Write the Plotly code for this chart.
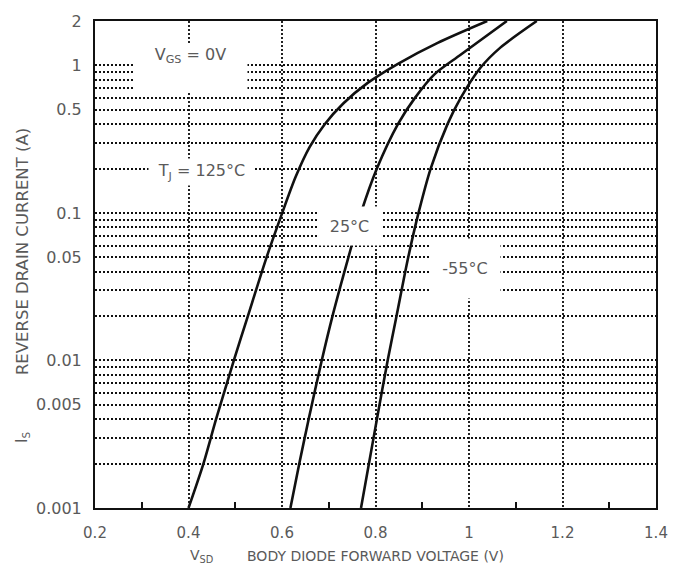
import math
import plotly.graph_objects as go

# ---------------- data ----------------
v_125 = [0.400, 0.432, 0.459, 0.497, 0.527, 0.567, 0.599, 0.629, 0.659, 0.691, 0.731, 0.784, 0.848, 0.933, 1.039]
i_125 = [0.001, 0.002, 0.004, 0.01, 0.02, 0.05, 0.097, 0.175, 0.279, 0.398, 0.552, 0.764, 1.026, 1.422, 2.0]

v_25 = [0.618, 0.637, 0.657, 0.685, 0.708, 0.742, 0.769, 0.803, 0.848, 0.884, 0.926, 0.982, 1.081]
i_25 = [0.001, 0.002, 0.004, 0.01, 0.02, 0.05, 0.10, 0.20, 0.40, 0.60, 0.87, 1.18, 2.0]

v_m55 = [0.769, 0.786, 0.803, 0.826, 0.845, 0.870, 0.892, 0.918, 0.954, 0.982, 1.024, 1.067, 1.145]
i_m55 = [0.001, 0.002, 0.004, 0.01, 0.02, 0.05, 0.10, 0.20, 0.40, 0.60, 0.96, 1.32, 2.0]

x_tick_vals = [0.2, 0.4, 0.6, 0.8, 1.0, 1.2, 1.4]
x_tick_text = ["0.2", "0.4", "0.6", "0.8", "1", "1.2", "1.4"]

y_label_map = {0.001: "0.001", 0.005: "0.005", 0.01: "0.01", 0.05: "0.05",
               0.1: "0.1", 0.5: "0.5", 1.0: "1", 2.0: "2"}
y_grid_vals = [round(m * 10 ** e, 6) for e in (-3, -2, -1) for m in range(1, 10)] + [1.0, 2.0]
y_grid_text = [y_label_map.get(v, "") for v in y_grid_vals]

FONT = "DejaVu Sans, sans-serif"
TXT = "#5a5a5a"
INK = "#111111"

fig = go.Figure()
for v, i in ((v_125, i_125), (v_25, i_25), (v_m55, i_m55)):
    fig.add_trace(go.Scatter(x=v, y=i, mode="lines",
                             line=dict(color=INK, width=2.6, shape="spline", smoothing=0.8),
                             showlegend=False, hoverinfo="skip"))

# plot area in pixels: x 95..660, y 18..508
def px(xp):
    return (xp - 95) / 565.0

def py(yp):
    return (508 - yp) / 490.0

labels = [
    ("V<sub>GS</sub> = 0V", 191.5, 65, 113, 46, "top"),
    ("T<sub>J</sub> = 125°C", 202.5, 170, 105, 26, "middle"),
    ("25°C", 351.5, 224, 63, 38, "middle"),
    ("-55°C", 468, 267.5, 70, 59, "middle"),
]
annotations = []
for text, xc, yc, w, h, va in labels:
    annotations.append(dict(text=text, xref="paper", yref="paper", x=px(xc), y=py(yc),
                            xanchor="center", yanchor="middle", showarrow=False,
                            width=w, height=h, valign=va, align="center",
                            bgcolor="white", borderpad=0,
                            font=dict(family=FONT, size=16, color=TXT)))

annotations += [
    dict(text="V<sub>SD</sub>", xref="paper", yref="paper", x=px(202), y=py(556),
         showarrow=False, xanchor="center", yanchor="middle",
         font=dict(family=FONT, size=14, color=TXT)),
    dict(text="BODY DIODE FORWARD VOLTAGE (V)", xref="paper", yref="paper", x=px(377), y=py(556),
         showarrow=False, xanchor="center", yanchor="middle",
         font=dict(family=FONT, size=14, color=TXT)),
    dict(text="REVERSE DRAIN CURRENT (A)", xref="paper", yref="paper", x=px(22), y=py(250),
         showarrow=False, xanchor="center", yanchor="middle", textangle=-90,
         font=dict(family=FONT, size=16.5, color=TXT)),
    dict(text="I<sub>S</sub>", xref="paper", yref="paper", x=px(22), y=py(437),
         showarrow=False, xanchor="center", yanchor="middle", textangle=-90,
         font=dict(family=FONT, size=15, color=TXT)),
]

fig.update_layout(
    width=680, height=580,
    margin=dict(l=95, r=20, t=18, b=72),
    paper_bgcolor="white", plot_bgcolor="white",
    annotations=annotations,
    font=dict(family=FONT, color=TXT),
    xaxis=dict(range=[0.2, 1.4], tickmode="linear", tick0=0.2, dtick=0.2,
               tickvals=x_tick_vals, ticktext=x_tick_text, tickformat="~g",
               showgrid=True, gridcolor="#222222", gridwidth=1.6, griddash="2px,2px",
               zeroline=False, showline=True, mirror=True, linecolor=INK, linewidth=2,
               ticks="", ticklabelstandoff=10,
               tickfont=dict(family=FONT, size=15, color=TXT),
               minor=dict(tick0=0.1, dtick=0.1, ticks="inside", ticklen=6, tickwidth=2,
                          tickcolor=INK, showgrid=False)),
    yaxis=dict(type="log", range=[-3, math.log10(2)], tickmode="array",
               tickvals=y_grid_vals, ticktext=y_grid_text,
               showgrid=True, gridcolor=INK, gridwidth=1.6, griddash="2px,2px",
               zeroline=False, showline=True, mirror=True, linecolor=INK, linewidth=2,
               ticks="", ticklabelstandoff=8,
               tickfont=dict(family=FONT, size=16, color=TXT)),
)

fig.write_html("out.html")
